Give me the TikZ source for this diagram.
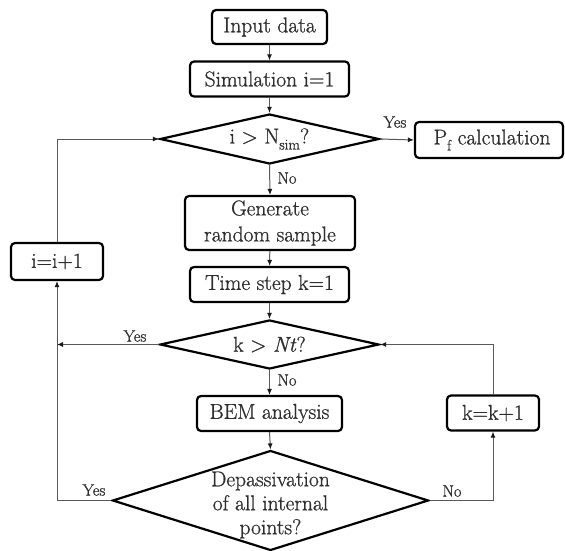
\documentclass[tikz,border=0pt]{standalone}
\usepackage{fontspec}
\setmainfont{Latin Modern Roman}[FakeBold=0.8]
\usetikzlibrary{shapes.geometric,arrows.meta}
\newcommand{\mysub}[1]{\raisebox{-0.28em}{\fontsize{15}{15}\selectfont #1}}
\begin{document}
\begin{tikzpicture}[x=1pt,y=-1pt,
  procbox/.style={draw=black,line width=2.2pt,rounded corners=4pt,rectangle,inner sep=0pt,
    text=black!82,font=\fontsize{21.5}{26}\selectfont,align=center},
  decbox/.style={draw=black,line width=2.2pt,diamond,inner sep=0pt},
  conn/.style={draw=black!65,line width=1pt,-{Latex[length=6pt,width=5pt,color=black!90]}},
  lbl/.style={text=black!82,font=\fontsize{16.5}{18}\selectfont,inner sep=0pt},
  dtext/.style={text=black!82,font=\fontsize{21.5}{24}\selectfont,align=center}]
\useasboundingbox (0,0) rectangle (565,551);
\fill[white] (0,0) rectangle (565,551);

\node[procbox,minimum width=115pt,minimum height=34pt] (inp) at (269.5,27) {Input data};
\node[procbox,minimum width=159pt,minimum height=35pt] (sim) at (269.5,79) {Simulation i=1};
\node[decbox,minimum width=219pt,minimum height=50pt,
  label={[dtext]center:i > N\mysub{sim}?}] (d1) at (269.5,139) {};
\node[procbox,minimum width=148pt,minimum height=36pt] (pf) at (489,140) {\hspace*{6pt}P\mysub{f} calculation};
\node[procbox,minimum width=170pt,minimum height=54pt] (gen) at (270,223) {Generate\\random sample};
\node[procbox,minimum width=159pt,minimum height=35pt] (ts) at (269.5,284.5) {Time step k=1};
\node[decbox,minimum width=219pt,minimum height=49pt,
  label={[dtext]center:k > \textit{Nt}?}] (d2) at (269.5,344.5) {};
\node[procbox,minimum width=145pt,minimum height=35pt] (bem) at (269.5,413.5) {BEM analysis};
\node[procbox,minimum width=92pt,minimum height=35pt] (kk) at (493,413) {k=k+1};
\node[decbox,minimum width=316pt,minimum height=100pt] (d3) at (270.5,500.5) {};
\node[dtext] (d3t) at (270.5,505) {Depassivation\\of all internal\\points?};
\node[procbox,minimum width=92pt,minimum height=37pt] (ii) at (57,261.5) {i=i+1};

\draw[conn] (inp) -- (sim);
\draw[conn] (sim) -- (d1);
\draw[conn] (d1.east) -- (pf.west);
\draw[conn] (d1.south) -- (gen.north);
\draw[conn] (gen) -- (ts);
\draw[conn] (ts.south) -- (d2.north);
\draw[conn] (d2.south) -- (bem.north);
\draw[conn] (bem.south) -- (d3.north);
\draw[conn] (d3.west) -| (ii.south);
\draw[conn] (d2.west) -- (d2.west -| ii.south);
\draw[conn] (ii.north) |- (d1.west);
\draw[conn] (d3.east) -| (kk.south);
\draw[conn] (kk.north) |- (d2.east);

\node[lbl] (y1) at (395,122) {Yes};
\node[lbl] (n1) at (287,178) {No};
\node[lbl] (y2) at (135,336) {Yes};
\node[lbl] (n2) at (287,380) {No};
\node[lbl] (y3) at (94,490) {Yes};
\node[lbl] (n3) at (452,491) {No};
\end{tikzpicture}
\end{document}
